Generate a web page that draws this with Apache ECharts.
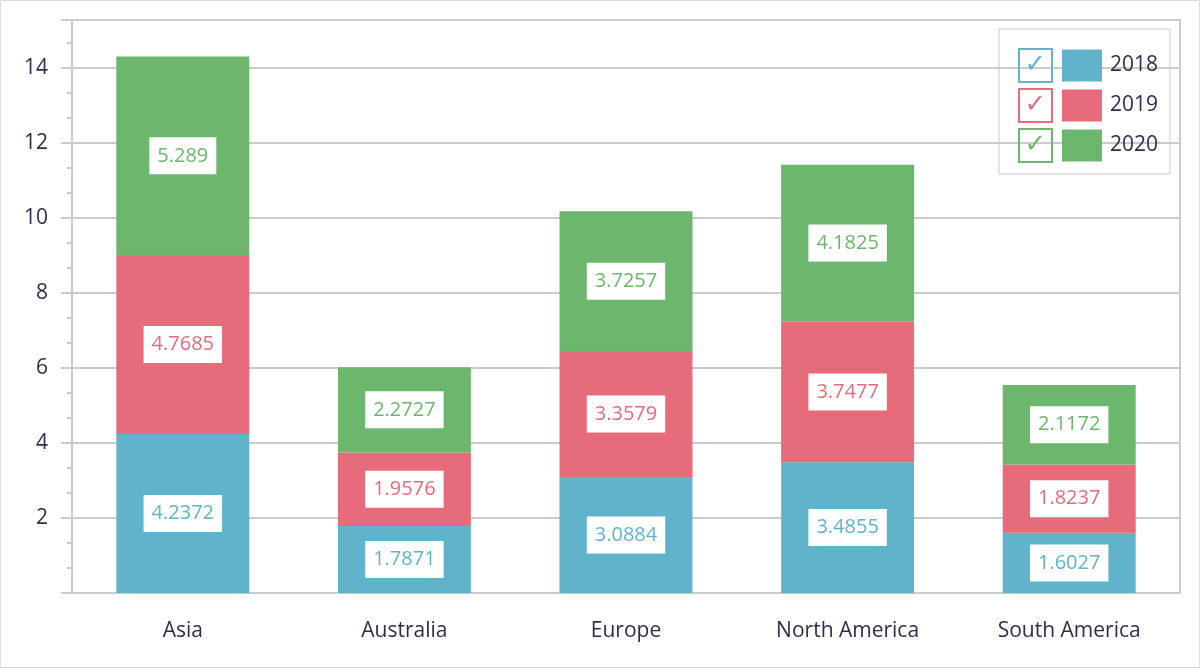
<!DOCTYPE html>
<html>
<head>
    <meta charset="utf-8">
    <title>Stacked bars by region</title>
    <script src="https://cdn.jsdelivr.net/npm/echarts@6/dist/echarts.min.js"></script>
    <style>
        html, body { margin: 0; padding: 0; background: #fff; }
        #main { width: 1200px; height: 668px; }
    </style>
</head>
<body>
    <div id="main"></div>
    <script type="text/javascript">
        var categories = ['Asia', 'Australia', 'Europe', 'North America', 'South America'];
        var years = ['2018', '2019', '2020'];
        var values2018 = [4.2372, 1.7871, 3.0884, 3.4855, 1.6027];
        var values2019 = [4.7685, 1.9576, 3.3579, 3.7477, 1.8237];
        var values2020 = [5.289, 2.2727, 3.7257, 4.1825, 2.1172];
        var colors = ['#61b3cc', '#e66b7b', '#6cb76d'];

        var font = 'Open Sans';
        var textColor = '#2e2e4c';
        var lineColor = '#cbcbcb';

        var myChart = echarts.init(document.getElementById('main'));

        // legend: checkbox + colour swatch + year, done with rich text
        var rich = {
            name: { fontSize: 21, fontFamily: font, color: textColor, padding: [0, 0, 0, 8] },
            gap: { width: 10 }
        };
        years.forEach(function (y, i) {
            rich['cb' + y] = {
                width: 33, height: 33, lineHeight: 33,
                borderColor: colors[i], borderWidth: 2,
                align: 'center', color: colors[i],
                fontSize: 26, fontFamily: 'DejaVu Sans'
            };
            rich['sq' + y] = { width: 40, height: 32, backgroundColor: colors[i] };
        });

        function makeSeries(name, data, i) {
            return {
                name: name,
                type: 'bar',
                stack: 'total',
                barWidth: '60%',
                data: data,
                itemStyle: { color: colors[i] },
                label: {
                    show: true,
                    position: 'inside',
                    backgroundColor: '#fff',
                    padding: [9, 8, 8, 8],
                    color: colors[i],
                    fontSize: 20,
                    fontFamily: font
                }
            };
        }

        var option = {
            animation: false,
            textStyle: { fontFamily: font },
            grid: {
                left: 72, right: 20, top: 20, bottom: 75,
                show: true, borderColor: lineColor, borderWidth: 2
            },
            legend: {
                data: years,
                orient: 'vertical',
                right: 30,
                top: 29,
                padding: [19, 12, 11, 15],
                itemGap: 5,
                itemWidth: 0,
                itemHeight: 0,
                borderColor: lineColor,
                borderWidth: 1,
                selectedMode: false,
                formatter: function (name) {
                    return '{cb' + name + '|✓}{gap|}{sq' + name + '|}{name|' + name + '}';
                },
                textStyle: { rich: rich, padding: 0 }
            },
            xAxis: {
                type: 'category',
                data: categories,
                axisLine: { lineStyle: { color: lineColor, width: 2 } },
                axisTick: { alignWithLabel: true, length: 11, lineStyle: { color: lineColor, width: 2 } },
                axisLabel: { color: textColor, fontSize: 21, fontFamily: font, margin: 28 }
            },
            yAxis: {
                type: 'value',
                min: 0,
                max: 15.27,
                interval: 2,
                axisLine: { show: true, lineStyle: { color: lineColor, width: 2 } },
                axisTick: { show: true, length: 11, lineStyle: { color: lineColor, width: 2 } },
                minorTick: { show: true, splitNumber: 3, length: 5, lineStyle: { color: lineColor, width: 2 } },
                splitLine: { lineStyle: { color: lineColor, width: 2 } },
                axisLabel: {
                    color: textColor, fontSize: 21, fontFamily: font, margin: 24,
                    showMinLabel: false, showMaxLabel: false
                }
            },
            graphic: [{
                type: 'rect',
                shape: { x: 0.5, y: 0.5, width: 1199, height: 667 },
                style: { fill: 'none', stroke: '#dcdcdc', lineWidth: 1 },
                silent: true
            }],
            series: [
                makeSeries(years[0], values2018, 0),
                makeSeries(years[1], values2019, 1),
                makeSeries(years[2], values2020, 2)
            ]
        };
        myChart.setOption(option);
    </script>
</body>
</html>
